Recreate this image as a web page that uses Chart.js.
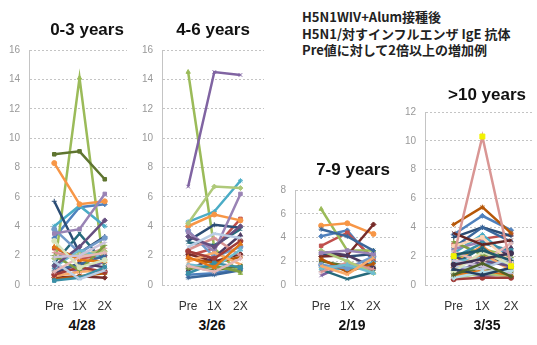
<!DOCTYPE html>
<html>
<head>
<meta charset="utf-8">
<script src="https://cdn.jsdelivr.net/npm/chart.js@4"></script>
<style>
body { margin: 0; width: 537px; height: 345px; background: #fff; position: relative; overflow: hidden; font-family: "Liberation Sans", Arial, sans-serif; }
.panel { position: absolute; }
.title { position: absolute; font-weight: bold; font-size: 17px; color: #111; transform: translateX(-50%); white-space: nowrap; }
.count { position: absolute; font-weight: bold; font-size: 14px; color: #111; transform: translateX(-50%); white-space: nowrap; }
.note { position: absolute; left: 302px; top: 9px; font-family: "Noto Sans CJK JP", sans-serif; font-weight: bold; font-size: 13px; line-height: 16.5px; color: #222; white-space: nowrap; }
</style>
</head>
<body>
<div class="note">H5N1WIV+Alum接種後<br>H5N1/対すインフルエンザ IgE 抗体<br>Pre値に対して2倍以上の増加例</div>
<script>
const xLabels = ['Pre', '1X', '2X'];

// 0-3 years, 28 subjects
const age0to3 = [
    [3.2, 5.3, 5.5], [2.5, 1.8, 2.0], [1.0, 14.1, 0.8], [1.3, 0.9, 1.6], [4.0, 5.4, 4.0],
    [8.3, 5.5, 5.7], [5.7, 2.2, 3.3], [0.5, 0.6, 0.5], [8.9, 9.1, 7.2], [0.8, 1.5, 1.2],
    [1.5, 3.5, 1.5], [0.4, 0.6, 0.8], [3.8, 2.2, 3.2], [2.2, 1.9, 2.5], [1.8, 2.1, 2.3],
    [3.5, 3.8, 6.2], [1.2, 2.4, 1.8], [0.6, 0.9, 1.0], [1.0, 1.4, 2.0], [0.7, 1.2, 0.9],
    [2.0, 1.0, 2.7], [1.3, 2.6, 4.4], [0.3, 0.5, 1.2], [2.6, 1.7, 1.6], [1.6, 0.4, 1.0],
    [0.9, 1.9, 2.2], [3.0, 1.2, 1.7], [1.9, 2.0, 2.9]
];

// 4-6 years, 26 subjects
const age4to6 = [
    [0.7, 0.8, 1.1], [2.0, 2.5, 4.5], [14.5, 2.5, 0.8], [6.7, 14.5, 14.3], [4.3, 5.0, 7.1],
    [4.0, 4.8, 4.4], [3.0, 4.1, 3.9], [2.1, 1.6, 2.1], [1.2, 1.0, 1.3], [1.0, 1.9, 3.4],
    [2.9, 2.7, 3.8], [1.8, 1.5, 1.9], [3.7, 1.9, 2.6], [2.4, 3.2, 2.0], [4.2, 6.7, 6.6],
    [3.6, 2.3, 6.2], [1.4, 1.2, 2.4], [1.6, 2.2, 1.4], [0.5, 0.7, 1.0], [2.3, 1.8, 3.0],
    [1.1, 1.3, 0.9], [3.3, 2.6, 4.0], [0.8, 1.5, 1.2], [1.9, 1.2, 2.8], [2.6, 3.5, 3.2],
    [1.3, 0.9, 1.8]
];

// 7-9 years, 19 subjects
const age7to9 = [
    [4.1, 4.6, 2.0], [3.3, 4.4, 2.2], [6.4, 2.9, 2.9], [0.8, 1.8, 1.2], [1.5, 1.3, 1.9],
    [5.0, 5.2, 4.3], [2.6, 2.4, 2.6], [2.4, 2.5, 5.1], [2.0, 1.6, 1.4], [2.8, 2.5, 1.5],
    [1.3, 0.5, 1.1], [2.2, 1.1, 1.8], [1.7, 1.4, 2.4], [1.1, 1.9, 1.3], [2.9, 2.0, 1.0],
    [2.7, 2.9, 2.6], [1.4, 1.7, 1.0], [1.6, 0.9, 2.3], [4.7, 4.1, 2.9]
];

// >10 years, 35 subjects
const age10plus = [
    [3.5, 4.8, 3.8], [2.8, 3.2, 3.5], [1.8, 2.5, 2.0], [0.9, 0.6, 0.8], [2.2, 3.5, 1.8],
    [1.5, 2.7, 1.2], [3.3, 4.0, 3.4], [1.2, 2.0, 1.5], [0.7, 1.2, 0.9], [2.0, 1.2, 2.6],
    [1.4, 2.6, 1.1], [4.2, 5.4, 3.6], [1.0, 1.4, 1.6], [2.0, 10.3, 1.3], [0.5, 0.8, 0.6],
    [2.5, 3.0, 2.2], [1.6, 1.9, 1.2], [1.1, 2.2, 1.0], [2.6, 4.0, 3.0], [0.4, 0.5, 0.5],
    [3.0, 2.1, 1.9], [0.8, 1.7, 1.3], [1.9, 2.9, 2.4], [0.6, 1.0, 0.7], [1.3, 1.1, 1.9],
    [2.3, 1.6, 2.9], [0.9, 2.3, 1.4], [1.7, 1.3, 0.8], [0.5, 0.9, 1.0], [2.7, 3.3, 1.6],
    [1.1, 0.7, 1.2], [3.6, 2.8, 3.1], [0.7, 1.5, 0.6], [1.4, 1.8, 2.2], [2.1, 2.4, 1.7]
];

const panelTitles = ['0-3 years', '4-6 years', '7-9 years', '>10 years'];
const panelCounts = ['4/28', '3/26', '2/19', '3/35'];
const panelMax = [16, 16, 8, 12];

// excel 2007 style palette, base / darker / lighter / darkest / lightest
const palette = [
    '#4F81BD', '#C0504D', '#9BBB59', '#8064A2', '#4BACC6', '#F79646',
    '#2C4D75', '#772C2A', '#5F7530', '#4D3B62', '#276A7C', '#B65708',
    '#729ACA', '#D99694', '#AFC97A', '#9983B5', '#6FBDD1', '#F9AB6B',
    '#3A679C', '#A13B38', '#7E9D40', '#664F7F', '#3A8FA6', '#E37716',
    '#B9CDE5', '#E6B9B8', '#D7E4BD', '#CCC1DA', '#B7DEE8', '#FCD5B5',
    '#254061', '#632523', '#4F6228', '#3F3151', '#215968'
];
const markers = ['rectRot', 'rect', 'triangle', 'crossRot', 'star', 'circle', 'cross'];

const layouts = [
    { L: 29, R: 130, T: 43, B: 285, xMax: 2.88, titleX: 87, titleY: 20, countX: 82 },
    { L: 162, R: 267, T: 43, B: 285, xMax: 2.9, titleX: 213, titleY: 20, countX: 212 },
    { L: 295, R: 400, T: 183, B: 285, xMax: 2.9, titleX: 353, titleY: 160, countX: 352 },
    { L: 425, R: 535, T: 105, B: 285, xMax: 2.73, titleX: 487, titleY: 85, countX: 487 }
];

const yAxisWidth = 30;
const xAxisHeight = 30;
const topPad = 8;

function makePanel(idx, series) {
    const lay = layouts[idx];

    const box = document.createElement('div');
    box.className = 'panel';
    box.style.left = (lay.L - yAxisWidth) + 'px';
    box.style.top = (lay.T - topPad) + 'px';
    box.style.width = (lay.R - lay.L + yAxisWidth + 2) + 'px';
    box.style.height = (lay.B - lay.T + topPad + xAxisHeight) + 'px';
    const canvas = document.createElement('canvas');
    box.appendChild(canvas);
    document.body.appendChild(box);

    const title = document.createElement('div');
    title.className = 'title';
    title.textContent = panelTitles[idx];
    title.style.left = lay.titleX + 'px';
    title.style.top = lay.titleY + 'px';
    document.body.appendChild(title);

    const count = document.createElement('div');
    count.className = 'count';
    count.textContent = panelCounts[idx];
    count.style.left = lay.countX + 'px';
    count.style.top = '317px';
    document.body.appendChild(count);

    const datasets = series.map((vals, i) => {
        const color = palette[i % palette.length];
        // the >10 spike series has yellow markers in the original
        const spike = idx === 3 && i === 13;
        const marker = spike ? '#F2F200' : color;
        return {
            data: vals.map((v, k) => ({ x: k, y: v })),
            borderColor: color,
            backgroundColor: marker,
            pointBackgroundColor: marker,
            pointBorderColor: marker,
            pointStyle: spike ? 'rect' : markers[i % markers.length],
            pointRadius: spike ? 3.5 : 2.5,
            pointBorderWidth: 1,
            borderWidth: 2.5,
            tension: 0,
            order: spike ? -100 : -i
        };
    });

    new Chart(canvas, {
        type: 'line',
        data: { datasets: datasets },
        options: {
            responsive: true,
            maintainAspectRatio: false,
            animation: false,
            events: [],
            clip: false,
            layout: { padding: { top: topPad, right: 2, left: 0, bottom: 0 } },
            scales: {
                x: {
                    type: 'linear',
                    min: -1,
                    max: lay.xMax,
                    afterBuildTicks: s => { s.ticks = xLabels.map((_, i) => ({ value: i })); },
                    afterFit: s => { s.height = xAxisHeight; },
                    ticks: {
                        autoSkip: false,
                        maxRotation: 0,
                        padding: 6,
                        color: '#333',
                        font: { family: 'Liberation Sans', size: 12 },
                        callback: v => xLabels[v] ?? ''
                    },
                    grid: { display: false },
                    border: { display: false }
                },
                y: {
                    min: 0,
                    max: panelMax[idx],
                    afterFit: s => { s.width = yAxisWidth; },
                    ticks: {
                        stepSize: 2,
                        padding: 9,
                        color: '#999',
                        font: { family: 'Liberation Sans', size: 10 }
                    },
                    grid: { color: '#c4c4c4', drawTicks: false, lineWidth: 1 },
                    border: { display: true, color: '#c4c4c4', dash: [2, 2] }
                }
            },
            plugins: {
                legend: { display: false },
                tooltip: { enabled: false }
            }
        }
    });
}

[age0to3, age4to6, age7to9, age10plus].forEach((s, i) => makePanel(i, s));
</script>
</body>
</html>
